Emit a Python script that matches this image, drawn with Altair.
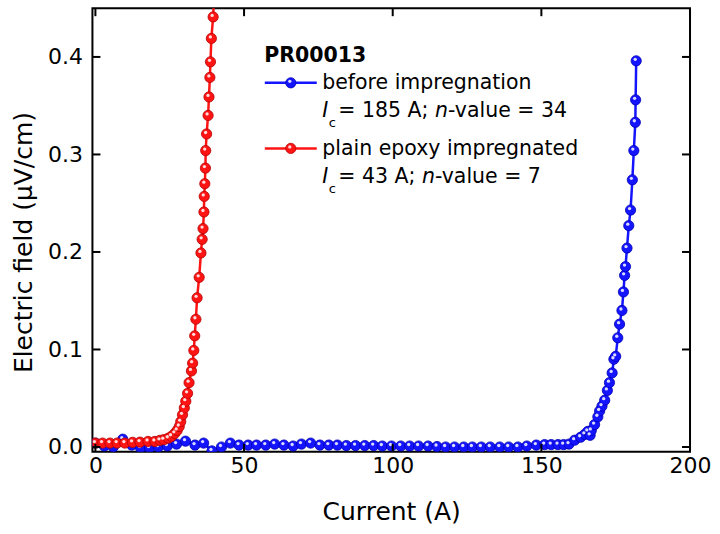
import altair as alt
import pandas as pd

FONT = "DejaVu Sans"
W, H = 598, 444

# Current (A) and electric field (uV/cm) for the sample after plain epoxy impregnation
red_current = [0.0, 2.4, 4.9, 7.3, 9.9, 12.5, 15.0, 17.7, 20.0, 21.7, 23.0, 24.5,
               25.6, 26.7, 27.5, 28.2, 28.7, 29.3, 29.9, 30.4, 31.0, 31.5, 32.3,
               32.7, 33.1, 33.4, 33.8, 34.2, 34.9, 35.5, 35.9, 36.2, 36.5, 36.6,
               36.8, 37.0, 37.1, 37.4, 37.9, 38.2, 38.5, 38.7, 39.0, 39.6, 40.0]
red_field = [0.004, 0.004, 0.004, 0.004, 0.004, 0.0048, 0.005, 0.0057, 0.0057,
             0.0068, 0.0075, 0.009, 0.011, 0.014, 0.017, 0.021, 0.026, 0.033,
             0.040, 0.047, 0.055, 0.066, 0.078, 0.086, 0.099, 0.114, 0.131,
             0.153, 0.174, 0.199, 0.213, 0.224, 0.241, 0.257, 0.270, 0.286,
             0.304, 0.321, 0.340, 0.359, 0.379, 0.395, 0.419, 0.441, 0.470]

# Same conductor before impregnation
blue_current = [0.0, 3.0, 6.0, 9.2, 12.2, 15.2, 18.2, 21.2, 24.2, 27.3, 30.3,
                33.5, 36.4, 39.2, 42.4, 45.4, 48.3, 51.4, 54.2, 57.3, 60.3,
                63.4, 66.5, 69.3, 72.4, 75.5, 78.5, 81.4, 84.4, 87.5, 90.6,
                93.6, 96.5, 99.6, 102.7, 105.7, 108.7, 111.9, 114.9, 117.8,
                120.8, 123.9, 126.8, 129.8, 132.8, 136.0, 139.0, 142.1, 145.1,
                148.3, 151.1, 153.3, 155.6, 157.5, 159.3, 161.2, 163.2, 164.6,
                165.6, 166.4, 166.8, 167.9, 169.0, 169.6, 170.4, 171.3, 172.2,
                172.9, 173.8, 174.4, 175.0, 175.7, 176.3, 177.1, 177.6, 178.0,
                178.3, 178.8, 179.4, 180.0, 180.6, 181.1, 181.6, 181.7, 181.9]
blue_field = [0.004, 0.001, 0.000, 0.008, 0.002, -0.001, -0.001, 0.000, 0.001,
              0.003, 0.006, 0.002, 0.004, -0.004, 0.000, 0.004, 0.002, 0.002,
              0.002, 0.002, 0.003, 0.002, 0.001, 0.003, 0.004, 0.002, 0.002,
              0.002, 0.0015, 0.0015, 0.0015, 0.0015, 0.001, 0.001, 0.001, 0.001,
              0.001, 0.001, 0.0005, 0.0, 0.0, 0.0, 0.0, 0.0, 0.0, 0.0, 0.0, 0.0,
              0.001, 0.002, 0.0025, 0.0025, 0.0025, 0.0025, 0.003, 0.007, 0.010,
              0.013, 0.016, 0.012, 0.017, 0.023, 0.031, 0.037, 0.042, 0.048,
              0.058, 0.066, 0.076, 0.090, 0.093, 0.112, 0.126, 0.140, 0.159,
              0.176, 0.185, 0.204, 0.227, 0.243, 0.274, 0.304, 0.333, 0.356, 0.396]

x_ticks = [0, 50, 100, 150, 200]
y_ticks = [0.0, 0.1, 0.2, 0.3, 0.4]

sample_name = "PR00013"
label_before = "before impregnation"
label_epoxy = "plain epoxy impregnated"
ic_before, n_before = "= 185 A; ", "-value = 34"
ic_epoxy, n_epoxy = "= 43 A; ", "-value = 7"

x_scale = alt.Scale(domain=[-1, 200], nice=False, zero=False)
y_scale = alt.Scale(domain=[-0.005, 0.45], nice=False, zero=False)

x_axis = alt.Axis(values=x_ticks, tickSize=0, domain=False, grid=False,
                  labelFont=FONT, labelFontSize=22, labelColor="black",
                  labelPadding=4, labelFlush=False, title="Current (A)",
                  titleFont=FONT, titleFontSize=25, titleFontWeight="normal",
                  titleColor="black", titleBaseline="alphabetic", titleY=68)
y_axis = alt.Axis(values=y_ticks, format=".1f", tickSize=0, domain=False,
                  grid=False, labelFont=FONT, labelFontSize=22,
                  labelColor="black", labelPadding=10,
                  title="Electric field (μV/cm)", titleFont=FONT,
                  titleFontSize=25, titleFontWeight="normal",
                  titleColor="black", titleBaseline="alphabetic",
                  titleX=-61, titleY=234)

X = lambda f: alt.X(f, scale=x_scale, axis=x_axis)
Y = lambda f: alt.Y(f, scale=y_scale, axis=y_axis)


def series(current, field, color, edge, shine):
    df = pd.DataFrame({"current": current, "field": field})
    base = alt.Chart(df).encode(x=X("current:Q"), y=Y("field:Q"))
    line = base.mark_line(color=color, strokeWidth=2.5, clip=True)
    dots = base.mark_point(filled=True, shape="circle", size=105, fill=color,
                           stroke=edge, strokeWidth=0.8, opacity=1, clip=True)
    glint = base.mark_point(filled=True, shape="circle", size=11, fill=shine,
                            opacity=0.95, xOffset=-1, yOffset=-1.5, clip=True)
    return [line, dots, glint]


blue_layers = series(blue_current, blue_field, "#1414ff", "#0000b4", "#e6e6ff")
red_layers = series(red_current, red_field, "#ff1414", "#b40000", "#ffe6e6")

# Inward tick marks on all four sides of the frame
xt = alt.Chart(pd.DataFrame({"current": x_ticks}))
yt = alt.Chart(pd.DataFrame({"field": y_ticks}))
tick_style = dict(color="black", strokeWidth=2)
ticks = [
    xt.mark_rule(**tick_style).encode(x=X("current:Q"),
                                      y=alt.value(H), y2=alt.value(H - 8)),
    xt.mark_rule(**tick_style).encode(x=X("current:Q"),
                                      y=alt.value(0), y2=alt.value(8)),
    yt.mark_rule(**tick_style).encode(y=Y("field:Q"),
                                      x=alt.value(0), x2=alt.value(8)),
    yt.mark_rule(**tick_style).encode(y=Y("field:Q"),
                                      x=alt.value(W), x2=alt.value(W - 8)),
]

# Legend block drawn inside the plot
one = alt.Chart(pd.DataFrame({"k": [0]}))


def txt(s, x, y, size=20.5, weight="normal", style="normal"):
    return one.mark_text(align="left", baseline="alphabetic", font=FONT,
                         fontSize=size, fontWeight=weight, fontStyle=style,
                         color="black").encode(x=alt.value(x), y=alt.value(y),
                                               text=alt.value(s))


def sample(y, color, edge, shine):
    return [
        one.mark_rule(color=color, strokeWidth=2.5).encode(
            x=alt.value(172.5), x2=alt.value(224.5), y=alt.value(y)),
        one.mark_point(filled=True, shape="circle", size=105, fill=color,
                       stroke=edge, strokeWidth=0.8, opacity=1).encode(
            x=alt.value(198.5), y=alt.value(y)),
        one.mark_point(filled=True, shape="circle", size=11, fill=shine,
                       opacity=0.95).encode(x=alt.value(197.5), y=alt.value(y - 1.5)),
    ]


def ic_line(y, ic_text, n_text, n_x):
    return [
        txt("I", 230, y, style="italic"),
        txt("c", 236.5, y + 9.4, size=13),
        txt(ic_text, 246, y),
        txt("n", n_x, y, style="italic"),
        txt(n_text, n_x + 13, y),
    ]


legend = (
    [txt(sample_name, 172, 53.7, size=20.5, weight="bold")]
    + sample(74.7, "#1414ff", "#0000b4", "#e6e6ff")
    + [txt(label_before, 230, 81)]
    + ic_line(109.3, ic_before, n_before, 342.8)
    + sample(140.3, "#ff1414", "#b40000", "#ffe6e6")
    + [txt(label_epoxy, 230, 147)]
    + ic_line(175.3, ic_epoxy, n_epoxy, 329.7)
)

chart = alt.layer(*blue_layers, *red_layers, *ticks, *legend).properties(
    width=W, height=H,
    autosize=alt.AutoSizeParams(type="none"),
    padding={"left": 92.5, "top": 8, "right": 30, "bottom": 82},
    background="white",
).configure_view(stroke="black", strokeWidth=2)

chart.save("out.html", embed_options={"renderer": "svg", "actions": False})
